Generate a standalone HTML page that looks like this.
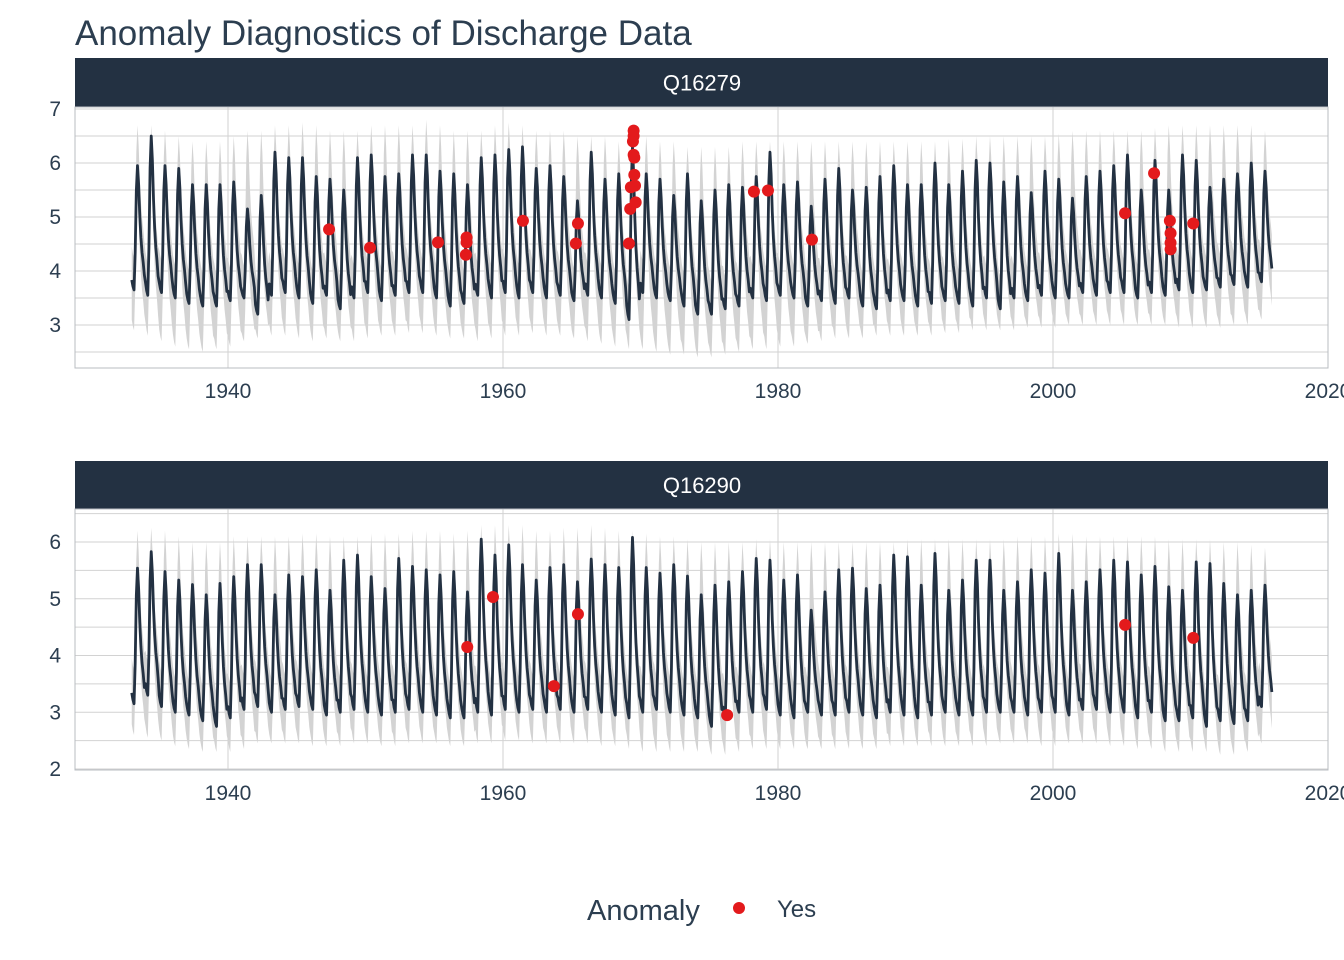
<!DOCTYPE html>
<html><head><meta charset="utf-8"><style>
html,body{margin:0;padding:0;background:#fff;}
svg{display:block;font-family:"Liberation Sans",sans-serif;}
</style></head><body>
<svg id="chart" width="1344" height="960" viewBox="0 0 1344 960">
<text x="75" y="45" font-size="35" fill="#2c3e50">Anomaly Diagnostics of Discharge Data</text>
<g id="panels"></g>
<g>
<text x="587" y="920" font-size="29" fill="#2c3e50">Anomaly</text>
<circle cx="739" cy="908" r="6" fill="#e31a1c"></circle>
<text x="777" y="917" font-size="24" fill="#2c3e50">Yes</text>
</g>
</svg>
<script>
const years = [];
for (let y = 1933; y <= 2015; y++) years.push(y);
const seasonShape = [0.08,0.03,0.0,0.3,0.8,1.0,0.85,0.6,0.42,0.3,0.22,0.12];
const xTicks = [1940,1960,1980,2000,2020];

const peaksA = [5.95,6.5,5.95,5.9,5.6,5.6,5.6,5.65,5.15,5.4,6.2,6.1,6.1,5.75,5.7,5.5,6.1,6.15,5.75,5.8,6.15,6.15,5.85,5.8,5.6,6.1,6.15,6.25,6.3,
5.9,5.95,5.75,5.3,6.2,5.7,5.8,6.3,5.8,5.7,5.4,5.8,5.3,5.5,5.6,5.55,5.75,6.2,5.6,5.65,5.2,5.7,5.9,5.5,5.55,5.75,5.95,5.6,
5.6,6.0,5.6,5.85,6.05,6.0,5.65,5.75,5.45,5.85,5.7,5.35,5.75,5.85,5.95,6.15,5.5,6.05,5.5,6.15,6.05,5.55,5.7,5.8,6.0,5.85];
const troughsA = [3.65,3.55,3.6,3.5,3.4,3.35,3.35,3.45,3.5,3.2,3.55,3.6,3.5,3.4,3.55,3.3,3.5,3.6,3.45,3.55,3.6,3.6,3.5,3.35,3.4,3.55,3.5,3.6,3.5,
3.6,3.5,3.55,3.45,3.55,3.5,3.4,3.1,3.6,3.5,3.45,3.35,3.2,3.2,3.3,3.35,3.5,3.45,3.55,3.5,3.35,3.45,3.4,3.5,3.35,3.3,3.45,3.45,
3.35,3.4,3.45,3.4,3.35,3.5,3.3,3.5,3.45,3.55,3.5,3.5,3.6,3.55,3.6,3.6,3.5,3.6,3.55,3.65,3.6,3.65,3.7,3.75,3.7,3.8];
const bandHiA = [6.7,6.7,6.6,6.5,6.4,6.4,6.4,6.5,6.6,6.6,6.7,6.7,6.75,6.7,6.6,6.6,6.6,6.7,6.7,6.7,6.7,6.8,6.7,6.6,6.6,6.6,6.7,6.75,6.7,
6.6,6.6,6.6,6.5,6.5,6.5,6.4,6.5,6.5,6.4,6.4,6.3,6.3,6.3,6.3,6.4,6.4,6.4,6.4,6.4,6.4,6.4,6.4,6.4,6.4,6.4,6.4,6.4,
6.4,6.4,6.45,6.45,6.5,6.5,6.5,6.5,6.5,6.5,6.55,6.6,6.6,6.6,6.6,6.6,6.6,6.65,6.7,6.7,6.7,6.7,6.7,6.7,6.7,6.6];
const bandLoA = [2.9,2.8,2.7,2.6,2.55,2.5,2.55,2.6,2.7,2.75,2.8,2.8,2.75,2.7,2.75,2.7,2.7,2.75,2.8,2.8,2.85,2.85,2.8,2.75,2.75,2.7,2.75,2.8,2.8,
2.85,2.8,2.8,2.75,2.7,2.65,2.6,2.55,2.55,2.5,2.45,2.45,2.4,2.4,2.45,2.5,2.55,2.55,2.6,2.6,2.65,2.7,2.75,2.75,2.75,2.8,2.8,2.8,
2.8,2.8,2.85,2.85,2.9,2.9,2.9,2.9,2.95,2.95,2.95,3.0,3.0,3.0,3.0,3.0,3.0,3.0,3.0,2.95,2.95,2.95,2.95,3.0,3.0,3.1];
const anomYearsA = [1947.35,1950.33,1955.27,1957.3,1957.35,1957.35,1961.45,1965.3,1965.45,1969.16,1969.25,1969.3,1969.45,1969.5,1969.5,1969.5,1969.55,1969.55,1969.6,1969.65,1978.25,1979.27,1982.47,2005.24,2007.35,2008.5,2008.55,2008.55,2008.55,2010.2];
const anomValsA = [4.77,4.43,4.53,4.3,4.53,4.62,4.93,4.51,4.88,4.51,5.15,5.55,6.4,6.5,6.6,6.15,6.1,5.78,5.58,5.27,5.47,5.49,4.58,5.07,5.81,4.93,4.7,4.52,4.4,4.88];

const peaksB = [5.54,5.83,5.48,5.33,5.25,5.07,5.27,5.39,5.6,5.6,5.07,5.42,5.39,5.51,5.15,5.68,5.77,5.39,5.18,5.71,5.57,5.51,5.42,5.48,5.12,6.05,5.77,5.95,5.6,5.33,5.55,5.6,5.3,5.7,5.6,5.55,6.08,5.55,5.45,5.6,5.4,
5.07,5.24,5.30,5.48,5.71,5.68,5.33,5.42,4.80,5.12,5.51,5.54,5.18,5.24,5.77,5.74,5.24,5.80,5.15,5.33,5.68,5.68,5.15,5.30,5.51,5.45,5.80,5.15,5.30,5.51,5.68,5.65,5.42,5.57,5.21,5.15,5.65,5.62,5.27,5.07,5.15,5.24];
const troughsB = [3.15,3.3,3.1,3.0,2.95,2.85,2.75,2.9,3.05,3.1,3.0,3.05,3.1,3.05,2.95,3.0,3.05,3.0,2.95,3.0,3.05,3.0,2.95,2.9,2.9,3.0,2.95,3.05,3.0,3.05,3.0,3.05,3.0,3.05,3.0,2.95,2.9,3.0,3.05,3.0,2.95,
2.9,2.75,2.9,3.0,3.0,3.05,2.95,2.9,3.0,2.95,2.95,3.0,2.95,2.9,3.0,2.95,2.9,2.95,3.0,2.95,2.95,3.0,3.0,3.0,2.95,3.0,3.0,2.95,3.05,3.05,3.0,3.0,2.9,3.0,2.85,2.85,2.9,2.75,2.85,2.8,2.85,3.1];
const bandHiB = [6.2,6.25,6.2,6.1,6.0,6.0,6.0,6.1,6.1,6.1,6.1,6.1,6.15,6.15,6.1,6.1,6.1,6.15,6.15,6.15,6.2,6.2,6.2,6.15,6.2,6.3,6.3,6.3,6.3,6.2,6.2,6.25,6.25,6.3,6.25,6.2,6.2,6.15,6.1,6.1,6.05,
6.0,6.0,6.0,6.0,6.05,6.05,6.0,6.0,6.0,6.0,6.0,6.0,6.0,6.0,6.0,6.05,6.05,6.05,6.05,6.05,6.05,6.05,6.05,6.1,6.1,6.1,6.15,6.15,6.1,6.1,6.1,6.1,6.1,6.1,6.05,6.05,6.05,6.05,6.0,6.0,5.95,5.9];
const bandLoB = [2.6,2.55,2.5,2.4,2.35,2.3,2.3,2.3,2.35,2.45,2.45,2.45,2.45,2.4,2.4,2.4,2.45,2.45,2.4,2.4,2.45,2.45,2.45,2.4,2.4,2.45,2.45,2.5,2.5,2.45,2.45,2.45,2.45,2.45,2.4,2.4,2.35,2.3,2.3,2.3,2.3,
2.3,2.25,2.25,2.3,2.35,2.35,2.35,2.35,2.35,2.35,2.35,2.35,2.35,2.35,2.4,2.4,2.4,2.4,2.4,2.4,2.4,2.4,2.45,2.45,2.45,2.4,2.4,2.45,2.45,2.45,2.4,2.4,2.35,2.35,2.3,2.3,2.3,2.3,2.25,2.25,2.3,2.45];
const anomYearsB = [1957.4,1959.27,1963.7,1965.45,1976.3,2005.24,2010.2];
const anomValsB = [4.15,5.03,3.46,4.73,2.95,4.54,4.31];

const NS = "http://www.w3.org/2000/svg";
function mk(tag, attrs, parent){const e=document.createElementNS(NS,tag);for(const k in attrs)e.setAttribute(k,attrs[k]);parent.appendChild(e);return e;}
const xScale = yr => 228 + (yr - 1940) * 13.75;

function drawPanel(cfg){
  const root = document.getElementById('panels');
  const g = mk('g', {}, root);
  
  
  const ys = v => cfg.y0 + (cfg.v0 - v) * cfg.ppu;
  const strip = mk('rect', {x:75,y:cfg.stripY,width:1253,height:cfg.stripH,fill:'#233142'}, g);
  
  
  const st = mk('text', {x:702,y:cfg.stripY+cfg.stripH/2+8,'text-anchor':'middle','font-size':22,fill:'#fff'}, g);
  st.textContent = cfg.label;
  
  
  for (let v = cfg.minV; v <= cfg.maxV + 0.001; v += 0.5) {
    const y = ys(v);
    if (y < cfg.top || y > cfg.bottom) continue;
    const l = mk('line', {x1:75,x2:1328,y1:y,y2:y,stroke:'#d2d2d2','stroke-width':1}, g);
    
    
  }
  xTicks.forEach(t => {
    const l = mk('line', {x1:xScale(t),x2:xScale(t),y1:cfg.top,y2:cfg.bottom,stroke:'#d2d2d2','stroke-width':1}, g);
    
    
    const tx = mk('text', {x:xScale(t),y:cfg.bottom+30,'text-anchor':'middle','font-size':21,fill:'#2c3e50'}, g);
    tx.textContent = t;
    
    
  });
  cfg.yTicks.forEach(t => {
    const tx = mk('text', {x:61,y:ys(t)+7,'text-anchor':'end','font-size':21,fill:'#2c3e50'}, g);
    tx.textContent = t;
    
    
  });
  const up = [], lo = [], line = [];
  years.forEach((yr, i) => {
    const pk = cfg.peaks[i], tr = cfg.troughs[i], bh = cfg.bandHi[i], bl = cfg.bandLo[i];
    seasonShape.forEach((s, m) => {
      const t = yr + m / 12;
      const v = tr + s * (pk - tr);
      line.push([xScale(t), ys(v)]);
      up.push([xScale(t), ys(tr + 0.6 + s * (bh - tr - 0.6))]);
      lo.push([xScale(t), ys(bl + s * (pk - 0.6 - bl))]);
    });
  });
  const band = mk('path', {d:'M' + up.map(p=>p.join(',')).join('L') + 'L' + lo.reverse().map(p=>p.join(',')).join('L') + 'Z', fill:'#d3d3d3'}, g);
  
  
  const ln = mk('path', {d:'M' + line.map(p=>p.join(',')).join('L'), fill:'none', stroke:'#233142','stroke-width':2.8,'stroke-linejoin':'round'}, g);
  
  
  cfg.anomYears.forEach((yr, i) => {
    const c = mk('circle', {cx:xScale(yr), cy:ys(cfg.anomVals[i]), r:6, fill:'#e31a1c'}, g);
    
    
  });
  const fr = mk('rect', {x:75,y:cfg.top,width:1253,height:cfg.bottom-cfg.top,fill:'none',stroke:'#b8bcc2','stroke-width':1}, g);
  
  
}

drawPanel({name:'panel-q16279',label:'Q16279',stripY:58,stripH:49,top:107,bottom:368,y0:109,v0:7,ppu:54,minV:2.5,maxV:7,yTicks:[3,4,5,6,7],
  peaks:peaksA,troughs:troughsA,bandHi:bandHiA,bandLo:bandLoA,anomYears:anomYearsA,anomVals:anomValsA});
drawPanel({name:'panel-q16290',label:'Q16290',stripY:461,stripH:48,top:509,bottom:770,y0:542,v0:6,ppu:56.75,minV:2,maxV:6.5,yTicks:[2,3,4,5,6],
  peaks:peaksB,troughs:troughsB,bandHi:bandHiB,bandLo:bandLoB,anomYears:anomYearsB,anomVals:anomValsB});
</script>
</body></html>
